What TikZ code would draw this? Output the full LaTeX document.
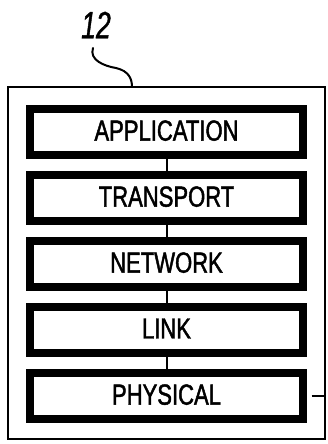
\documentclass[tikz,border=0pt]{standalone}
\usepackage{fontspec}
\setmainfont{Liberation Sans}[FakeStretch=0.76,FakeBold=1.5]
\newfontfamily\numfont{Liberation Sans}[FakeStretch=0.7,FakeBold=1]
\begin{document}
\begin{tikzpicture}[x=1pt,y=-1pt,
  layerbox/.style={draw=black,line width=8.5pt,minimum width=273pt,minimum height=46pt,inner sep=0pt,
    text depth=3pt,font=\fontsize{29}{29}\selectfont},
  conn/.style={draw=black,line width=2pt},
  outerbox/.style={draw=black,line width=2pt}]
\useasboundingbox (0,0) rectangle (327,444);
\fill[white] (0,0) rectangle (327,444);
\draw[outerbox] (8,87) rectangle (325,439);
\node[layerbox] (app) at (166.5,132) {APPLICATION};
\node[layerbox] (tra) at (166.5,198) {TRANSPORT};
\node[layerbox] (net) at (166.5,264) {NETWORK};
\node[layerbox] (lnk) at (166.5,330) {LINK};
\node[layerbox] (phy) at (166.5,396) {PHYSICAL};
\draw[conn] (app.south) -- (tra.north);
\draw[conn] (tra.south) -- (net.north);
\draw[conn] (net.south) -- (lnk.north);
\draw[conn] (lnk.south) -- (phy.north);
\coordinate (pe) at (325,396);
\draw[conn] (phy.east) ++(4.25,0) -- (pe);
\node[font=\numfont\itshape\fontsize{38}{38}\selectfont,inner sep=0pt] (lbl) at (96,25) {12};
\coordinate (ls) at (93,48);
\coordinate (le) at (132,87);
\draw[line width=2pt,line cap=round] (ls) .. controls (89,60) and (104,66) .. (116,68) .. controls (129,71) and (132,79) .. (le);
\end{tikzpicture}
\end{document}
